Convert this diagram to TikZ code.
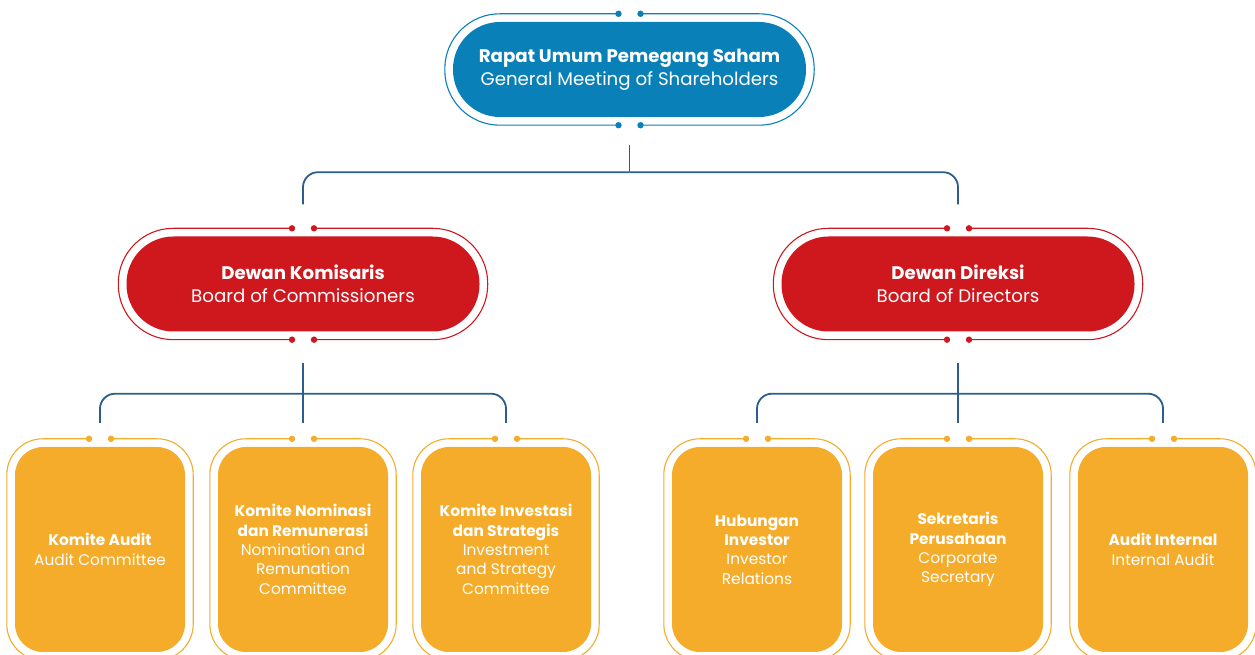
\documentclass[tikz,border=0pt]{standalone}
\usepackage{fontspec}
\setmainfont{Poppins}
\usetikzlibrary{calc}

\definecolor{rupsblue}{HTML}{0A80B8}
\definecolor{boardred}{HTML}{CE181E}
\definecolor{unitorange}{HTML}{F4AC2A}
\definecolor{linkblue}{HTML}{2B5D8F}

\tikzset{
  pill/.style={rounded corners=47pt, minimum width=353pt, minimum height=95pt,
    inner sep=0pt, text=white, align=center, font=\fontsize{18.2}{22.5}\selectfont},
  unit/.style={rounded corners=28pt, minimum width=170pt, minimum height=205pt,
    inner sep=0pt, fill=unitorange, text=white, align=center,
    font=\fontsize{15.4}{19.3}\selectfont},
  link/.style={draw=linkblue, line width=1.8pt},
}

% outer ring with the two dots at top and bottom
\newcommand{\ringframe}[3]{%
  \draw[#2, line width=1.1pt, rounded corners=#3]
    ($(#1.south west)+(-8,-8)$) rectangle ($(#1.north east)+(8,8)$);
  \fill[white] ($(#1.north)+(-11,5)$) rectangle ($(#1.north)+(11,11)$);
  \fill[white] ($(#1.south)+(-11,-5)$) rectangle ($(#1.south)+(11,-11)$);
  \fill[#2] ($(#1.north)+(-11,8)$) circle (3.2) ($(#1.north)+(11,8)$) circle (3.2);
  \fill[#2] ($(#1.south)+(-11,-8)$) circle (3.2) ($(#1.south)+(11,-8)$) circle (3.2);
}

\begin{document}
\begin{tikzpicture}[x=1pt, y=1pt]
  \useasboundingbox (0,0) rectangle (1255,655);
  \clip (0,0) rectangle (1255,655);

  \node[pill, fill=rupsblue] (rups) at (629.5,585.5)
    {\textbf{Rapat Umum Pemegang Saham}\\General Meeting of Shareholders};
  \node[pill, fill=boardred] (komisaris) at (303,371)
    {\textbf{Dewan Komisaris}\\Board of Commissioners};
  \node[pill, fill=boardred] (direksi) at (958,371)
    {\textbf{Dewan Direksi}\\Board of Directors};

  \node[unit] (kaudit) at (100,105.5) {\textbf{Komite Audit}\\Audit Committee};
  \node[unit] (knominasi) at (303,105.5)
    {\textbf{Komite Nominasi}\\\textbf{dan Remunerasi}\\Nomination and\\Remunation\\Committee};
  \node[unit] (kinvestasi) at (506,105.5)
    {\textbf{Komite Investasi}\\\textbf{dan Strategis}\\Investment\\and Strategy\\Committee};
  \node[unit] (hubinv) at (757,105.5)
    {\textbf{Hubungan}\\\textbf{Investor}\\Investor\\Relations};
  \node[unit] (sekper) at (958,105.5)
    {\textbf{Sekretaris}\\\textbf{Perusahaan}\\Corporate\\Secretary};
  \node[unit] (auditint) at (1163,105.5) {\textbf{Audit Internal}\\Internal Audit};

  \ringframe{rups}{rupsblue}{55pt}
  \ringframe{komisaris}{boardred}{55pt}
  \ringframe{direksi}{boardred}{55pt}
  \foreach \u in {kaudit, knominasi, kinvestasi, hubinv, sekper, auditint}
    \ringframe{\u}{unitorange}{36pt};

  % connectors
  \coordinate (busTop) at ($(rups.south)+(0,-55)$);
  \coordinate (busKom) at ($(komisaris.south)+(0,-62)$);
  \coordinate (busDir) at ($(direksi.south)+(0,-62)$);

  \draw[link] ($(rups.south)+(0,-28)$) -- (busTop);
  \draw[link, rounded corners=15pt] (busTop) -| ($(komisaris.north)+(0,32)$);
  \draw[link, rounded corners=15pt] (busTop) -| ($(direksi.north)+(0,32)$);

  \draw[link] ($(komisaris.south)+(0,-31)$) -- ($(knominasi.north)+(0,24)$);
  \draw[link, rounded corners=15pt] (busKom) -| ($(kaudit.north)+(0,24)$);
  \draw[link, rounded corners=15pt] (busKom) -| ($(kinvestasi.north)+(0,24)$);

  \draw[link] ($(direksi.south)+(0,-31)$) -- ($(sekper.north)+(0,24)$);
  \draw[link, rounded corners=15pt] (busDir) -| ($(hubinv.north)+(0,24)$);
  \draw[link, rounded corners=15pt] (busDir) -| ($(auditint.north)+(0,24)$);
\end{tikzpicture}
\end{document}
